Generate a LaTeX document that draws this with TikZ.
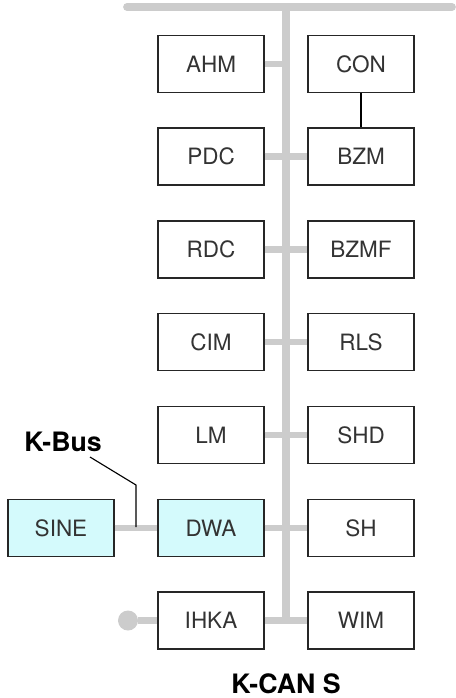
\documentclass[tikz,border=0pt]{standalone}
\usepackage{fontspec}
\setmainfont{TeX Gyre Heros}
\usetikzlibrary{positioning}
\definecolor{busgray}{RGB}{204,204,204}
\definecolor{ecufill}{RGB}{212,250,252}
\definecolor{ecutext}{RGB}{51,51,51}

\begin{document}
\begin{tikzpicture}[x=0.025cm, y=-0.025cm,
    ecu/.style={draw=black!85, line width=1pt, rectangle, fill=white, text=ecutext,
      minimum width=2.65cm, minimum height=1.425cm, font=\fontsize{16}{19}\selectfont},
    kbus/.style={ecu, fill=ecufill},
    bus/.style={busgray, line width=5.5pt},
    stub/.style={busgray, line width=4.8pt},
    lbl/.style={font=\fontsize{19}{22}\selectfont\bfseries}]
            \useasboundingbox (0,0) rectangle (455,698);
            % K-CAN S bus line
            \coordinate (barwest) at (127,7);
            \coordinate (bareast) at (452,7);
            \coordinate (bustop) at (286,7);
            \coordinate (busbot) at (286,620);
            \draw[bus, line cap=round] (barwest) -- (bareast);
            \draw[bus] (bustop) -- (busbot);
            % Control units, left column
            \node[ecu] (ahm) at (211,64) {AHM};
            \node[ecu] (pdc) at (211,156.5) {PDC};
            \node[ecu] (rdc) at (211,249.5) {RDC};
            \node[ecu] (cim) at (211,342) {CIM};
            \node[ecu] (lm) at (211,435) {LM};
            \node[kbus] (dwa) at (211,528) {DWA};
            \node[ecu] (ihka) at (211,620.5) {IHKA};
            % Control units, right column
            \node[ecu] (con) at (361,64) {CON};
            \node[ecu] (bzm) at (361,156.5) {BZM};
            \node[ecu] (bzmf) at (361,249.5) {BZMF};
            \node[ecu] (rls) at (361,342) {RLS};
            \node[ecu] (shd) at (361,435) {SHD};
            \node[ecu] (sh) at (361,528) {SH};
            \node[ecu] (wim) at (361,620.5) {WIM};
            % K-Bus unit
            \node[kbus] (sine) at (61,528) {SINE};
            % Stubs to the bus
            \draw[stub] (ahm.east) -- (ahm.east -| bustop);
            \draw[stub] (pdc) -- (bzm);
            \draw[stub] (rdc) -- (bzmf);
            \draw[stub] (cim) -- (rls);
            \draw[stub] (lm) -- (shd);
            \draw[stub] (dwa) -- (sh);
            \draw[stub] (ihka) -- (wim);
            \draw[stub] (sine) -- (dwa);
            \node[circle, fill=busgray, inner sep=0pt, minimum size=0.5cm] (term) at (128,620.5) {};
            \draw[stub] (term) -- (ihka);
            \draw[black, line width=1.4pt] (con) -- (bzm);
            % Labels
            \node[lbl] (kbuslbl) at (63,442) {K-Bus};
            \node[lbl] (kcanlbl) at (286,684) {K-CAN S};
            \coordinate (kbusfrom) at (90,457);
            \coordinate (kbusbend) at (136,485);
            \coordinate (kbustip) at (136,527);
            \draw[black, line width=0.8pt] (kbusfrom) -- (kbusbend) -- (kbustip);
        \end{tikzpicture}
\end{document}
